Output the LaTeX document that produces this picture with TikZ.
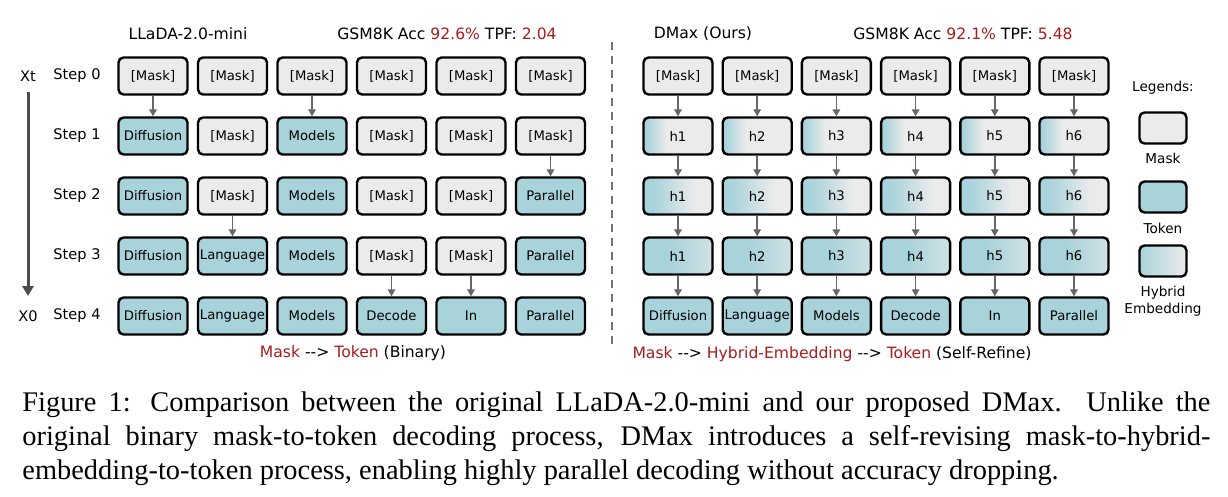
\documentclass[tikz,border=0pt]{standalone}
\usepackage{fontspec}
\setmainfont{Liberation Serif}
\newfontfamily\figfont{DejaVu Sans}
\usetikzlibrary{arrows.meta}

\definecolor{maskgray}{HTML}{EBEBEB}
\definecolor{tokenteal}{HTML}{A9D3DA}
\definecolor{accred}{HTML}{A81C1C}
\definecolor{arrowgray}{HTML}{666666}
\colorlet{hybridend}{tokenteal!40!maskgray}

\pgfdeclarehorizontalshading{hybridone}{100bp}{color(0bp)=(tokenteal); color(27bp)=(tokenteal); color(42bp)=(maskgray); color(100bp)=(maskgray)}
\pgfdeclarehorizontalshading{hybridtwo}{100bp}{color(0bp)=(tokenteal); color(32bp)=(tokenteal); color(62bp)=(maskgray); color(100bp)=(maskgray)}
\pgfdeclarehorizontalshading{hybridthree}{100bp}{color(0bp)=(tokenteal); color(45bp)=(tokenteal); color(75bp)=(hybridend); color(100bp)=(hybridend)}
\pgfdeclarehorizontalshading{hybridlegend}{100bp}{color(0bp)=(tokenteal); color(25bp)=(tokenteal); color(75bp)=(maskgray); color(100bp)=(maskgray)}

\tikzstyle{cell} = [draw=black, line width=1.2pt, rounded corners=2.5pt, minimum width=34.5pt, minimum height=18.5pt, inner sep=0pt, font=\figfont\fontsize{6.6}{7}\selectfont]
\tikzstyle{maskcell} = [cell, fill=maskgray]
\tikzstyle{tokencell} = [cell, fill=tokenteal]
\tikzstyle{hybone} = [cell, shading=hybridone]
\tikzstyle{hybtwo} = [cell, shading=hybridtwo]
\tikzstyle{hybthree} = [cell, shading=hybridthree]
\tikzstyle{legcell} = [draw=black, line width=1.2pt, rounded corners=2.5pt, minimum width=23.5pt, minimum height=15.5pt, inner sep=0pt]
\tikzstyle{flow} = [draw=arrowgray, line width=0.8pt, -{Triangle[length=3.5pt,width=3.8pt]}]
\tikzstyle{timeflow} = [draw=black!70, line width=1.5pt, -{Triangle[length=5pt,width=5.5pt]}]
\tikzstyle{divider} = [draw=black!55, line width=0.8pt, dash pattern=on 4pt off 3pt]
\tikzstyle{steptext} = [font=\figfont\fontsize{7.3}{8}\selectfont, inner sep=1pt]
\tikzstyle{headtext} = [font=\figfont\fontsize{7.8}{9}\selectfont, inner sep=1pt]
\tikzstyle{legtext} = [font=\figfont\fontsize{6.8}{8.5}\selectfont, inner sep=1pt, align=center]

\begin{document}
\begin{tikzpicture}[x=0.5pt, y=-0.5pt]
  \useasboundingbox (0,0) rectangle (1228,497);

  \node[headtext] (lefttitle) at (188,34) {LLaDA-2.0-mini};
  \node[headtext] (leftacc) at (447,34) {GSM8K Acc \textcolor{accred}{92.6\%} TPF: \textcolor{accred}{2.04}};
  \node[headtext] (righttitle) at (703,34) {DMax (Ours)};
  \node[headtext] (rightacc) at (963,34) {GSM8K Acc \textcolor{accred}{92.1\%} TPF: \textcolor{accred}{5.48}};

  \node[steptext] (xt) at (28,76) {Xt};
  \node[steptext] (x0) at (28,316) {X0};
  \draw[timeflow, shorten <=4pt, shorten >=6pt] (xt) -- (x0);
  \foreach \r in {0,...,4} {
    \node[steptext] (step\r) at (77,{76+60*\r}) {Step \r};
  }

  \foreach \sty/\lab [count=\c] in {maskcell/[Mask], maskcell/[Mask], maskcell/[Mask], maskcell/[Mask], maskcell/[Mask], maskcell/[Mask]} {
    \node[\sty] (L0-\c) at ({153+79.5*(\c-1)},76) {\lab};
  }
  \foreach \sty/\lab [count=\c] in {tokencell/Diffusion, maskcell/[Mask], tokencell/Models, maskcell/[Mask], maskcell/[Mask], maskcell/[Mask]} {
    \node[\sty] (L1-\c) at ({153+79.5*(\c-1)},136) {\lab};
  }
  \foreach \sty/\lab [count=\c] in {tokencell/Diffusion, maskcell/[Mask], tokencell/Models, maskcell/[Mask], maskcell/[Mask], tokencell/Parallel} {
    \node[\sty] (L2-\c) at ({153+79.5*(\c-1)},196) {\lab};
  }
  \foreach \sty/\lab [count=\c] in {tokencell/Diffusion, tokencell/Language, tokencell/Models, maskcell/[Mask], maskcell/[Mask], tokencell/Parallel} {
    \node[\sty] (L3-\c) at ({153+79.5*(\c-1)},256) {\lab};
  }
  \foreach \sty/\lab [count=\c] in {tokencell/Diffusion, tokencell/Language, tokencell/Models, tokencell/Decode, tokencell/In, tokencell/Parallel} {
    \node[\sty] (L4-\c) at ({153+79.5*(\c-1)},316) {\lab};
  }
  \draw[flow] (L0-1) -- (L1-1);
  \draw[flow] (L0-3) -- (L1-3);
  \draw[flow] (L1-6) -- (L2-6);
  \draw[flow] (L2-2) -- (L3-2);
  \draw[flow] (L3-4) -- (L4-4);
  \draw[flow] (L3-5) -- (L4-5);

  \coordinate (divtop) at (612,42);
  \coordinate (divbot) at (612,345);
  \draw[divider] (divtop) -- (divbot);

  \foreach \lab [count=\c] in {Diffusion, Language, Models, Decode, In, Parallel} {
    \node[maskcell] (R0-\c) at ({678+79.2*(\c-1)},76) {[Mask]};
    \node[hybone] (R1-\c) at ({678+79.2*(\c-1)},136) {h\c};
    \node[hybtwo] (R2-\c) at ({678+79.2*(\c-1)},196) {h\c};
    \node[hybthree] (R3-\c) at ({678+79.2*(\c-1)},256) {h\c};
    \node[tokencell] (R4-\c) at ({678+79.2*(\c-1)},316) {\lab};
    \draw[flow] (R0-\c) -- (R1-\c);
    \draw[flow] (R1-\c) -- (R2-\c);
    \draw[flow] (R2-\c) -- (R3-\c);
    \draw[flow] (R3-\c) -- (R4-\c);
  }

  \node[headtext] (leftnote) at (353,353) {\textcolor{accred}{Mask} -{}-{}> \textcolor{accred}{Token} (Binary)};
  \node[headtext] (rightnote) at (832,354) {\textcolor{accred}{Mask} -{}-{}> \textcolor{accred}{Hybrid-Embedding} -{}-{}> \textcolor{accred}{Token} (Self-Refine)};

  \node[legtext] (legtitle) at (1163,88) {Legends:};
  \node[legcell, fill=maskgray] (legmask) at (1163,128) {};
  \node[legtext] (legmasktext) at (1163,158) {Mask};
  \node[legcell, fill=tokenteal] (legtoken) at (1163,197) {};
  \node[legtext] (legtokentext) at (1163,228) {Token};
  \node[legcell, shading=hybridlegend] (leghybrid) at (1163,261) {};
  \node[legtext] (leghybridtext) at (1163,301) {Hybrid\\Embedding};

  \node[anchor=north west, inner sep=0pt, text width=594pt, align=justify, font=\fontsize{14.2}{17}\selectfont] (caption) at (22,391) {Figure 1: Comparison between the original LLaDA-2.0-mini and our proposed DMax. Unlike the\linebreak original binary mask-to-token decoding process, DMax introduces a self-revising mask-to-hybrid-\linebreak embedding-to-token process, enabling highly parallel decoding without accuracy dropping.};
\end{tikzpicture}
\end{document}
